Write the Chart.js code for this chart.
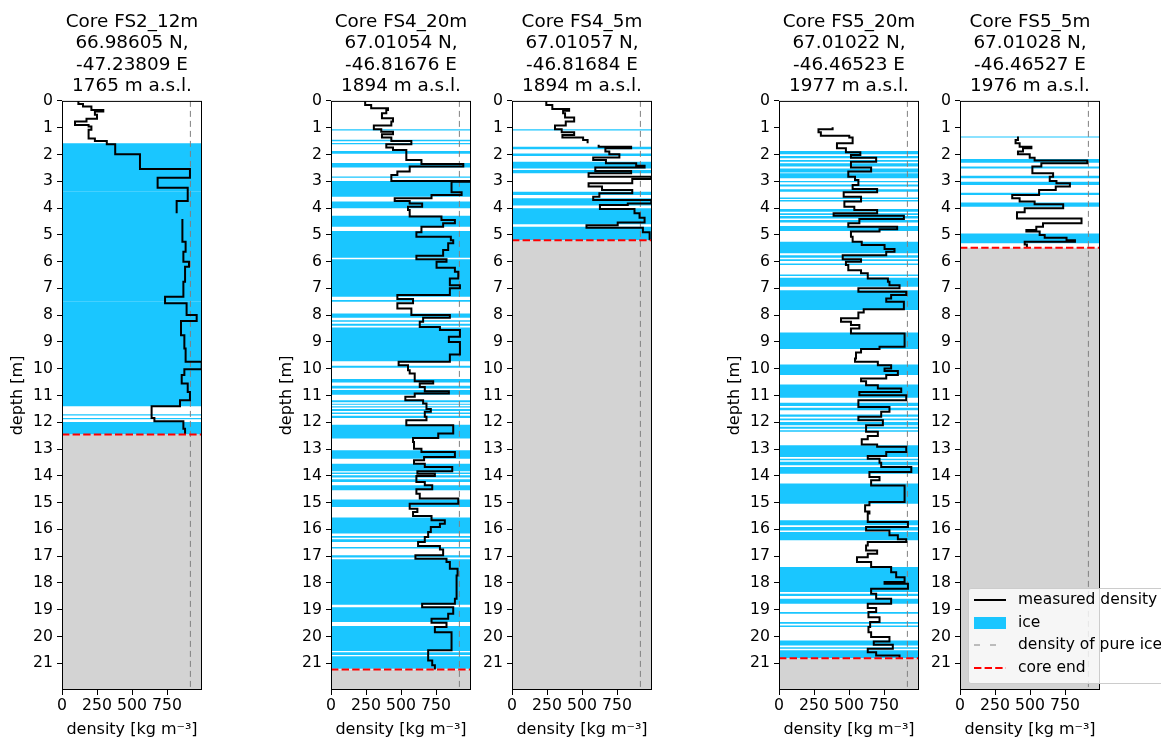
<!DOCTYPE html>
<html>
<head>
<meta charset="utf-8">
<script src="https://cdn.jsdelivr.net/npm/chart.js@4.4.1/dist/chart.umd.min.js"></script>
<style>
  body { margin: 0; width: 1161px; height: 738px; overflow: hidden; background: #fff; position: relative; font-family: 'DejaVu Sans', sans-serif; }
  canvas { position: absolute; top: 0; }
  #legend { position: absolute; left: 968px; top: 588px; width: 215px; height: 96px; background: rgba(255,255,255,0.8); border: 1px solid #ccc; border-radius: 3px; box-sizing: border-box; }
  .row { position: absolute; left: 0; height: 22px; width: 100%; }
  .row svg { position: absolute; left: 4px; top: 0; }
  .row span { position: absolute; left: 49px; top: 1px; font-size: 15.5px; line-height: 19px; color: #000; white-space: nowrap; }
</style>
</head>
<body>
<canvas id="c1" width="264" height="738" style="left:0px"></canvas>
<canvas id="c2" width="264" height="738" style="left:269px"></canvas>
<canvas id="c3" width="264" height="738" style="left:450px"></canvas>
<canvas id="c4" width="264" height="738" style="left:717px"></canvas>
<canvas id="c5" width="264" height="738" style="left:898px"></canvas>

<div id="legend">
  <div class="row" style="top:0px">
    <svg width="34" height="22"><line x1="1" y1="11" x2="33" y2="11" stroke="#000" stroke-width="2"/></svg>
    <span>measured density</span>
  </div>
  <div class="row" style="top:22.5px">
    <svg width="34" height="22"><rect x="1" y="5" width="32" height="12" fill="#1ac6ff"/></svg>
    <span>ice</span>
  </div>
  <div class="row" style="top:45px">
    <svg width="34" height="22"><line x1="1" y1="11" x2="33" y2="11" stroke="#808080" stroke-width="1" stroke-dasharray="6,10"/></svg>
    <span>density of pure ice</span>
  </div>
  <div class="row" style="top:67.5px">
    <svg width="34" height="22"><line x1="1" y1="11" x2="33" y2="11" stroke="#ff0000" stroke-width="2" stroke-dasharray="7.4,3.2"/></svg>
    <span>core end</span>
  </div>
</div>

<script>
// axis ticks
const xTicks = [0, 250, 500, 750];
const yTicks = [0, 1, 2, 3, 4, 5, 6, 7, 8, 9, 10, 11, 12, 13, 14, 15, 16, 17, 18, 19, 20, 21];
const depthMax = 22;
const densMax = 1000;
const pureIce = 917;

// --- Core FS2_12m ---
const fs2Title = ['Core FS2_12m', '66.98605 N,', '-47.23809 E', '1765 m a.s.l.'];
const fs2Top = [0.00,0.12,0.21,0.34,0.40,0.52,0.67,0.77,0.90,0.96,1.08,1.40,1.50,1.62,1.99,2.54,2.87,3.24,3.74,4.20,4.41,5.26,5.63,6.01,6.19,6.75,7.31,7.56,8.00,8.22,8.75,9.25,9.74,10.02,10.24,10.55,10.87,11.18,11.40,11.84,11.96,12.24,12.46];
const fs2Dens = [117,150,210,295,235,250,175,93,190,210,190,235,320,380,557,914,683,898,819,null,860,883,867,907,879,867,736,890,962,850,874,883,998,874,855,898,914,843,640,660,867,879];
const fs2Ice = [[1.58,3.39],[3.39,7.50],[7.50,11.40],[11.70,11.75],[11.84,11.89],[11.99,12.46]];
const fs2End = 12.46;

// --- Core FS4_20m ---
const fs4lTitle = ['Core FS4_20m', '67.01054 N,', '-46.81676 E', '1894 m a.s.l.'];
const fs4lTop = [0,0.15,0.27,0.34,0.46,0.65,0.77,0.92,1.06,1.15,1.25,1.37,1.50,1.62,1.74,1.83,2.21,2.36,2.45,2.64,2.77,2.99,3.02,3.41,3.51,3.64,3.74,3.83,3.95,4.07,4.32,4.45,4.57,4.70,4.91,5.07,5.20,5.32,5.57,5.78,5.91,6.01,6.23,6.38,6.63,6.88,7.00,7.25,7.40,7.56,7.75,8.00,8.10,8.25,8.44,8.56,8.81,9.00,9.47,9.74,9.87,10.06,10.18,10.47,10.55,10.68,10.84,10.93,11.05,11.18,11.30,11.51,11.61,11.80,11.93,12.11,12.42,12.59,12.74,12.99,13.11,13.30,13.42,13.55,13.67,13.83,13.92,14.01,14.23,14.35,14.50,14.67,14.85,15.04,15.23,15.35,15.50,15.66,15.79,15.91,16.10,16.29,16.47,16.62,16.75,16.97,17.10,17.22,17.47,17.72,18.59,18.78,18.91,19.15,19.34,19.49,19.65,19.84,20.52,20.90,21.08,21.23];
const fs4lDens = [244,287,407,395,364,443,431,306,359,443,364,431,574,395,443,538,646,945,562,474,431,1000,861,933,718,455,562,651,550,562,789,885,801,646,610,856,873,837,801,610,825,754,885,909,849,921,849,474,586,474,574,849,658,634,778,921,842,921,849,483,550,562,598,730,634,670,842,598,531,658,682,713,670,682,538,873,766,586,593,646,885,665,593,670,866,617,742,610,670,723,610,634,909,562,617,586,718,813,778,713,694,670,622,778,801,603,825,849,904,897,885,651,873,837,718,825,742,861,694,723,742];
const fs4lIce = [[1.06,1.11],[1.45,1.51],[1.57,1.62],[1.87,1.97],[2.32,2.49],[2.82,2.87],[2.99,3.58],[3.76,4.01],[4.29,4.70],[4.86,5.86],[5.91,7.31],[7.44,7.50],[7.94,8.10],[8.19,8.25],[8.32,8.40],[8.46,9.72],[9.89,9.97],[10.39,10.52],[10.64,10.74],[10.80,10.97],[11.18,11.25],[11.31,11.35],[11.40,11.45],[11.51,11.58],[11.64,11.69],[11.76,11.84],[12.09,12.61],[13.05,13.36],[13.55,13.83],[13.88,13.93],[13.98,14.06],[14.13,14.23],[14.35,14.54],[14.89,15.17],[15.56,16.16],[16.25,16.31],[16.37,16.47],[16.66,16.72],[16.97,17.05],[17.12,18.82],[18.91,19.46],[19.61,20.54],[20.59,20.69],[20.74,21.21]];
const fs4lEnd = 21.23;

// --- Core FS4_5m ---
const fs4sTitle = ['Core FS4_5m', '67.01057 N,', '-46.81684 E', '1894 m a.s.l.'];
const fs4sTop = [0,0.15,0.30,0.37,0.46,0.62,0.77,0.92,1.06,1.17,1.27,1.37,1.46,1.58,1.64,1.71,1.77,1.89,1.99,2.11,2.21,2.33,2.42,2.49,2.62,2.70,2.83,2.92,3.08,3.20,3.33,3.45,3.58,3.70,3.83,3.89,4.04,4.20,4.36,4.54,4.64,4.74,4.91,5.20];
const fs4sDens = [245,288,408,365,379,444,384,307,355,444,360,508,540,null,619,851,667,695,767,580,671,887,947,595,851,547,995,859,547,643,859,624,580,995,827,628,875,911,947,755,532,935,983];
const fs4sIce = [[1.06,1.11],[1.71,1.81],[1.96,2.06],[2.27,2.52],[2.58,2.70],[3.39,3.51],[3.64,3.91],[4.01,4.61],[4.70,5.20]];
const fs4sEnd = 5.20;

// --- Core FS5_20m ---
const fs5lTitle = ['Core FS5_20m', '67.01022 N,', '-46.46523 E', '1977 m a.s.l.'];
const fs5lTop = [0.98,1.06,1.17,1.30,1.37,1.58,1.77,1.92,2.02,2.12,2.27,2.49,2.64,2.83,2.95,3.14,3.29,3.41,3.58,3.76,3.95,4.07,4.20,4.29,4.41,4.57,4.70,4.79,4.88,5.07,5.26,5.38,5.53,5.63,5.76,5.91,6.01,6.13,6.32,6.44,6.63,6.75,6.88,7.00,7.13,7.25,7.38,7.50,7.78,7.90,8.12,8.25,8.37,8.50,8.69,9.18,9.27,9.40,9.62,9.74,9.87,9.99,10.09,10.24,10.37,10.47,10.62,10.74,10.87,10.99,11.18,11.43,11.61,11.80,11.93,12.11,12.36,12.51,12.64,12.83,12.92,13.11,13.26,13.36,13.51,13.67,13.86,14.05,14.17,14.36,14.98,15.10,15.33,15.41,15.73,15.91,16.04,16.22,16.37,16.47,16.60,16.79,16.91,17.04,17.22,17.41,17.60,17.79,17.97,18.03,18.22,18.41,18.59,18.78,18.94,19.09,19.28,19.46,19.65,19.84,20.02,20.19,20.31,20.46,20.59,20.71,20.81];
const fs5lDens = [383,282,299,502,526,414,478,581,514,694,514,658,495,543,567,526,701,462,586,467,538,701,390,892,574,495,844,718,514,526,591,754,825,766,455,586,478,495,586,634,778,789,861,567,909,801,766,892,605,567,443,514,574,514,897,718,586,550,543,706,801,754,849,766,586,622,706,873,574,909,567,789,730,567,742,622,706,634,591,701,909,766,634,718,730,945,646,718,658,897,646,615,646,634,921,622,789,849,909,634,622,701,634,557,658,801,837,897,754,921,658,694,801,634,694,639,718,651,639,658,789,677,813,634,694,861];
const fs5lIce = [[1.87,1.99],[2.06,2.14],[2.21,2.27],[2.33,2.45],[2.52,2.67],[2.70,2.89],[2.99,3.04],[3.12,3.20],[3.30,3.39],[3.61,3.66],[3.70,3.76],[4.04,4.14],[4.20,4.26],[4.30,4.39],[4.45,4.54],[4.67,4.86],[5.26,5.69],[5.76,5.86],[5.91,5.98],[6.07,6.13],[6.48,6.54],[6.60,6.94],[7.07,7.81],[8.65,9.27],[9.84,10.24],[10.59,11.09],[11.27,11.39],[11.46,11.55],[11.71,11.80],[11.86,11.93],[11.99,12.11],[12.17,12.24],[12.30,12.36],[12.86,13.30],[13.36,13.42],[13.48,13.61],[13.67,13.92],[14.29,15.04],[15.66,15.85],[15.91,16.04],[16.10,16.41],[17.41,18.34],[18.41,18.49],[18.59,18.78],[19.09,19.15],[19.46,19.53],[19.59,19.65],[20.15,20.34],[20.40,20.46],[20.52,20.81]];
const fs5lEnd = 20.81;

// --- Core FS5_5m ---
const fs5sTitle = ['Core FS5_5m', '67.01028 N,', '-46.46527 E', '1976 m a.s.l.'];
const fs5sTop = [1.33,1.46,1.58,1.71,1.77,1.89,1.99,2.12,2.23,2.33,2.45,2.70,2.83,2.99,3.08,3.20,3.33,3.51,3.64,3.76,3.86,4.01,4.16,4.39,4.57,4.70,4.82,4.88,5.01,5.11,5.20,5.26,5.36,5.48];
const fs5sDens = [414,397,426,510,450,414,498,533,909,581,517,665,641,689,785,684,565,373,426,533,737,462,407,868,593,545,474,569,605,761,821,462,478];
const fs5sIce = [[1.33,1.37],[2.17,2.31],[2.45,2.52],[2.80,2.89],[3.02,3.14],[3.43,3.51],[3.79,3.95],[4.95,5.32]];
const fs5sEnd = 5.48;

const ICE = '#1ac6ff';
const BELOW = '#d3d3d3';

Chart.defaults.font.family = "'DejaVu Sans', sans-serif";
Chart.defaults.font.size = 15.7;
Chart.defaults.color = '#000';

// step profile: each density holds from top[i] down to top[i+1]
function profilePoints(top, dens) {
  const pts = [];
  for (let i = 0; i < dens.length; i++) {
    if (dens[i] === null) { pts.push({x: null, y: top[i]}); continue; }
    pts.push({x: dens[i], y: top[i]}, {x: dens[i], y: top[i + 1]});
  }
  return pts;
}

const framePlugin = {
  id: 'frame',
  afterDatasetsDraw(chart) {
    const a = chart.chartArea, c = chart.ctx;
    c.save();
    c.strokeStyle = '#000';
    c.lineWidth = 1;
    c.strokeRect(a.left + 0.5, a.top + 0.5, a.right - a.left - 1, a.bottom - a.top - 1);
    c.restore();
  }
};

function makeChart(id, title, top, dens, ice, end, yLabel) {
  const datasets = [
    {label: 'core end', data: [{x: 0, y: end}, {x: densMax, y: end}], borderColor: '#ff0000', borderWidth: 2, borderDash: [7.4, 3.2], order: 0},
    {label: 'measured density', data: profilePoints(top, dens), borderColor: '#000', borderWidth: 2, order: 1},
    {label: 'density of pure ice', data: [{x: pureIce, y: 0}, {x: pureIce, y: depthMax}], borderColor: '#808080', borderWidth: 1, borderDash: [6, 4], order: 2},
    {label: 'below core', data: [{x: 0, y: end}, {x: densMax, y: end}], borderWidth: 0, borderColor: 'rgba(0,0,0,0)', backgroundColor: BELOW, fill: {value: depthMax}, order: 3}
  ];
  ice.forEach(function (b) {
    datasets.push({label: 'ice', data: [{x: 0, y: b[0]}, {x: densMax, y: b[0]}], borderWidth: 0, borderColor: 'rgba(0,0,0,0)', backgroundColor: ICE, fill: {value: b[1]}, order: 4});
  });

  const tickGrid = {drawOnChartArea: false, drawTicks: true, tickLength: 5, color: '#000', lineWidth: 1};

  new Chart(document.getElementById(id), {
    type: 'line',
    data: {datasets: datasets},
    plugins: [framePlugin],
    options: {
      responsive: false,
      animation: false,
      spanGaps: false,
      elements: {point: {radius: 0}, line: {tension: 0, borderJoinStyle: 'miter'}},
      layout: {padding: 0},
      plugins: {
        legend: {display: false},
        tooltip: {enabled: false},
        title: {display: true, text: title, color: '#000', font: {size: 18.4, weight: 'normal', lineHeight: 1.163}, padding: {top: 11.3, bottom: 4}}
      },
      scales: {
        x: {
          type: 'linear', min: 0, max: densMax,
          afterBuildTicks: function (s) { s.ticks = xTicks.map(v => ({value: v})); },
          afterFit: function (s) { s.height = 48; },
          grid: tickGrid, border: {display: false},
          ticks: {color: '#000', padding: 2, maxRotation: 0, autoSkip: false},
          title: {display: true, text: 'density [kg m\u207B\u00B3]', color: '#000', font: {size: 16, lineHeight: 1.0}, padding: {top: 0, bottom: 0}}
        },
        y: {
          type: 'linear', reverse: true, min: 0, max: depthMax,
          afterBuildTicks: function (s) { s.ticks = yTicks.map(v => ({value: v})); },
          afterFit: function (s) { s.width = 62; },
          grid: tickGrid, border: {display: false},
          ticks: {color: '#000', padding: 4, autoSkip: false},
          title: {display: yLabel, text: 'depth [m]', color: '#000', font: {size: 16}, padding: {top: 8.4, bottom: 0}}
        },
        yR: {
          type: 'linear', position: 'right', display: true, min: 0, max: 1,
          ticks: {display: false}, grid: {display: false}, border: {display: false},
          afterFit: function (s) { s.width = 62; }
        }
      }
    }
  });
}

makeChart('c1', fs2Title, fs2Top, fs2Dens, fs2Ice, fs2End, true);
makeChart('c2', fs4lTitle, fs4lTop, fs4lDens, fs4lIce, fs4lEnd, true);
makeChart('c3', fs4sTitle, fs4sTop, fs4sDens, fs4sIce, fs4sEnd, false);
makeChart('c4', fs5lTitle, fs5lTop, fs5lDens, fs5lIce, fs5lEnd, true);
makeChart('c5', fs5sTitle, fs5sTop, fs5sDens, fs5sIce, fs5sEnd, false);
</script>
</body>
</html>
